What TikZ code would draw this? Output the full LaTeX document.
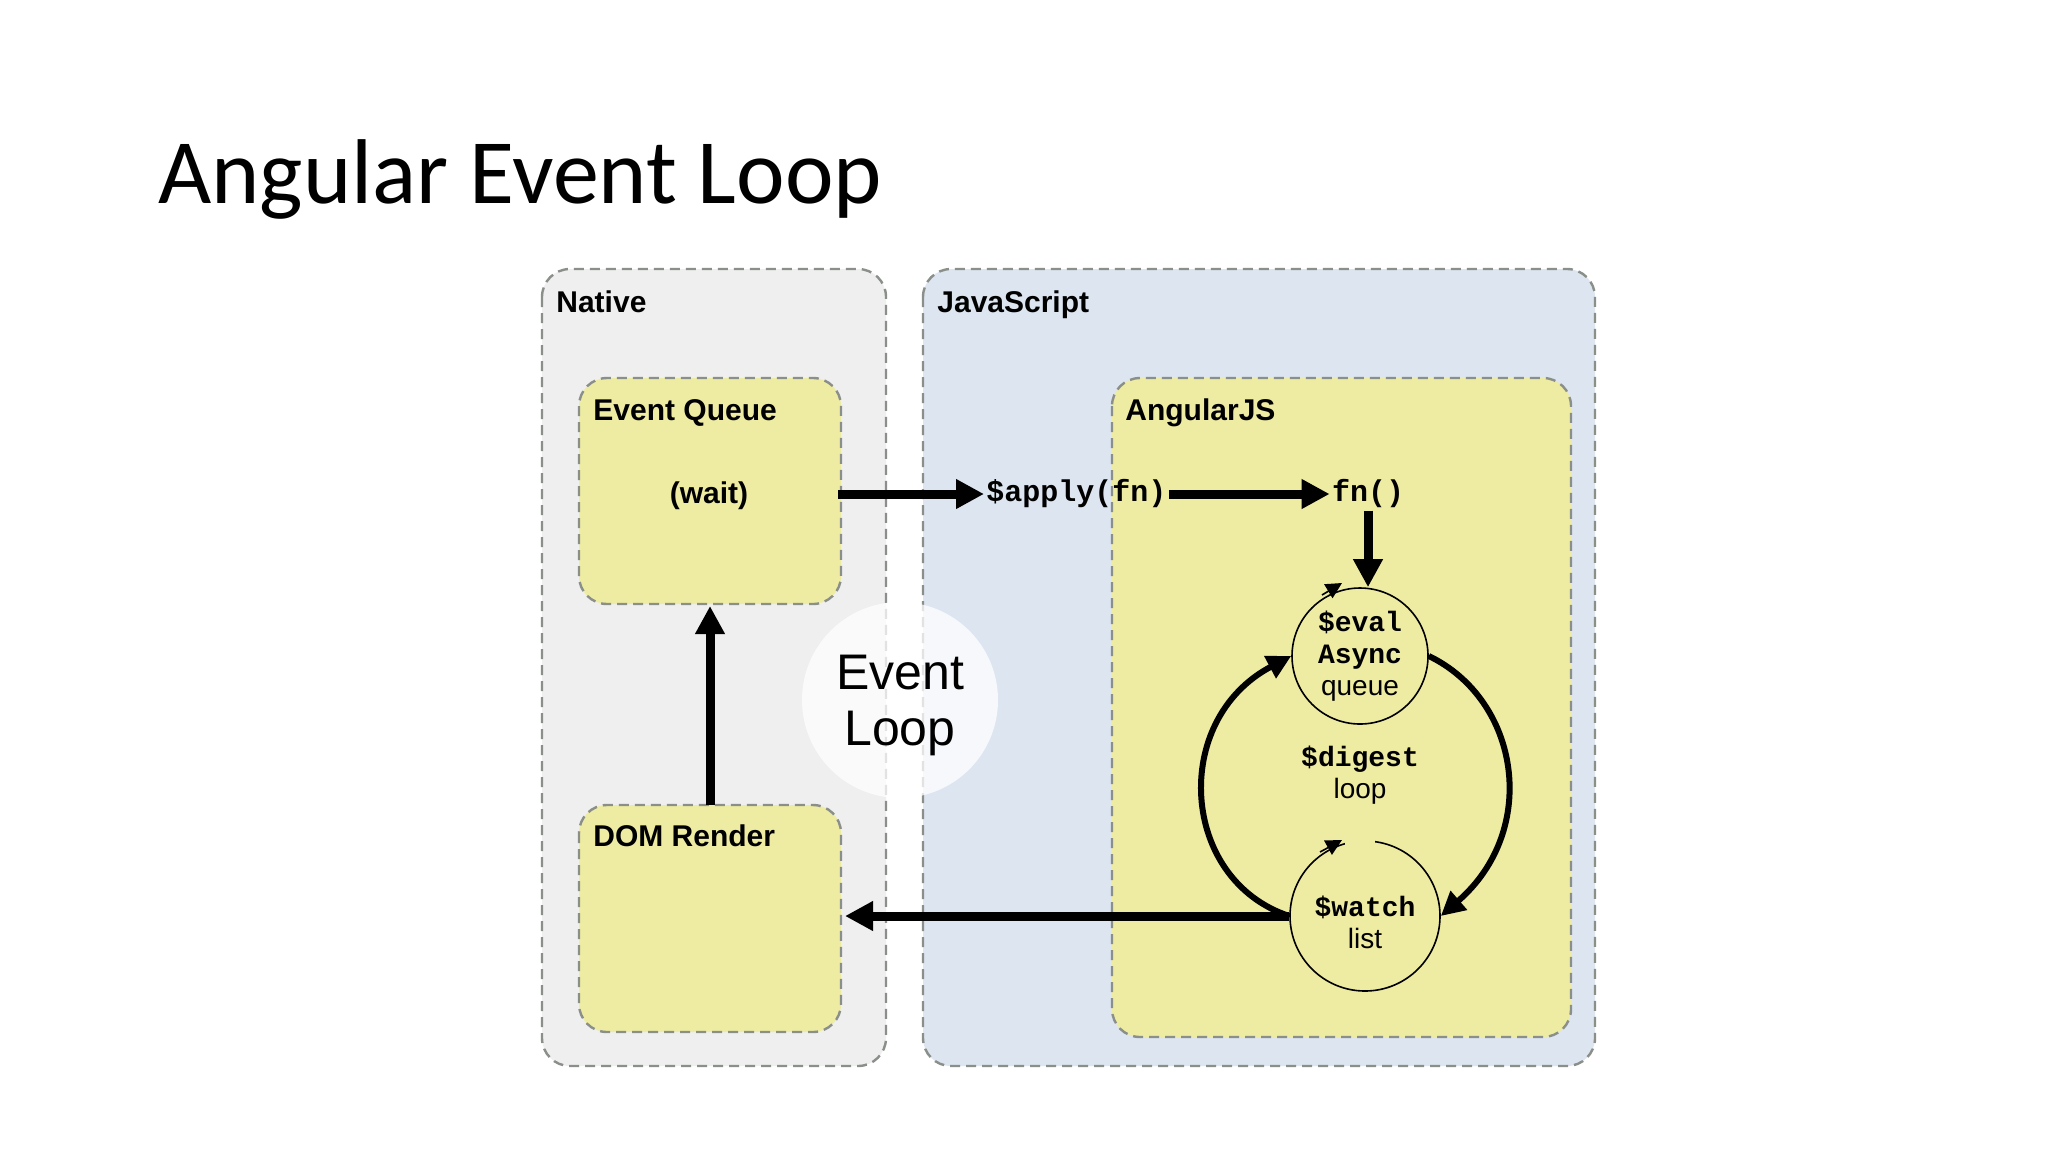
\documentclass[tikz,border=0pt]{standalone}
\usepackage{fontspec}
\setmainfont{Liberation Sans}
\newfontfamily\titlefont{Carlito}
\newfontfamily\monof{Liberation Mono}
\usetikzlibrary{arrows.meta}
\definecolor{natgray}{HTML}{EFEFEF}
\definecolor{jsblue}{HTML}{DCE5F0}
\definecolor{ylw}{HTML}{EEEBA2}
\definecolor{dashc}{HTML}{8A8F8A}
\begin{document}
\begin{tikzpicture}[x=0.5pt,y=-0.5pt,
  box/.style={draw=dashc,dashed,line width=1.2pt,rounded corners=14pt,dash pattern=on 5pt off 3pt},
  lbl/.style={font=\fontsize{15}{18}\selectfont\bfseries,anchor=base west,inner sep=0},
  mono/.style={font=\fontsize{15}{18}\selectfont\monof\bfseries,inner sep=1pt},
  big/.style={line width=4.5pt,-{Triangle[length=14pt,width=14pt]}},
  loopar/.style={line width=3pt,-{Triangle[length=12pt,width=12pt]}},
  circ/.style={draw,circle,line width=0.8pt,inner sep=0}]
\useasboundingbox (0,0) rectangle (2048,1152);
\fill[white] (0,0) rectangle (2048,1152);
\node[font=\fontsize{46}{54}\selectfont\titlefont,anchor=base west,inner sep=0] (title) at (158,203) {Angular Event Loop};
% containers
\draw[box,fill=natgray] (542,269) rectangle (886,1066);
\draw[box,fill=jsblue] (923,269) rectangle (1595,1066);
\draw[box,fill=ylw] (1112,378) rectangle (1571,1037);
\draw[box,fill=ylw] (579,378) rectangle (841,604);
\draw[box,fill=ylw] (579,805) rectangle (841,1032);
\node[lbl] (native) at (556,312) {Native};
\node[lbl] (js) at (937,312) {JavaScript};
\node[lbl] (ang) at (1125,420) {AngularJS};
\node[lbl] (eqt) at (593,420) {Event Queue};
\node[lbl] (domt) at (593,846) {DOM Render};
\node[font=\fontsize{15}{18}\selectfont\bfseries] (wait) at (709,496) {(wait)};
\coordinate (eqR) at (838,494);
\coordinate (eqB) at (710,606);
\coordinate (domT) at (710,805);
\coordinate (domR) at (845,916);
% event loop circle
\fill[white,opacity=0.75] (900,700) circle (98);
\node[font=\fontsize{25}{30}\selectfont,align=center] (el) at (900,705) {Event\\[-2pt]Loop};
% apply row
\node[mono,anchor=west] (apply) at (984,494) {\$apply(fn)};
\node[mono] (fn) at (1368,494) {fn()};
% circles
\node[circ,minimum size=136pt*0.5] (eval) at (1360,656) {};
\node[align=center,font=\fontsize{14}{17}\selectfont] (evalt) at (1360,656) {{\monof\bfseries \$eval}\\[-1pt]{\monof\bfseries Async}\\[-1pt]queue};
\node[circ,minimum size=150pt*0.5] (watch) at (1365,916) {};
\fill[ylw] (1345,834) rectangle (1375,846);
\node[align=center,font=\fontsize{14}{17}\selectfont] (watcht) at (1365,922) {{\monof\bfseries \$watch}\\[-1pt]list};
\node[align=center,font=\fontsize{14}{17}\selectfont] (dig) at (1360,775) {{\monof\bfseries \$digest}\\[-1pt]loop};
% small arrowheads on circles
\draw[line width=0.8pt,-{Triangle[length=8pt,width=8pt]}] (1322,595) -- (1342,583);
\draw[line width=0.8pt,-{Triangle[length=8pt,width=8pt]}] (1320,852) -- (1342,840);
% connectors
\draw[big] (eqR) -- (apply.west);
\draw[big] (apply.east) -- (fn.west);
\draw[big] (fn.south) -- (fn.south |- eval.north);
\draw[loopar] (eval.east) .. controls (1520,700) and (1540,830) .. (watch.east);
\draw[loopar] (watch.west) .. controls (1180,880) and (1170,720) .. (eval.west);
\draw[big] (watch.west) -- (domR);
\draw[big] (domT) -- (eqB);
\end{tikzpicture}
\end{document}
